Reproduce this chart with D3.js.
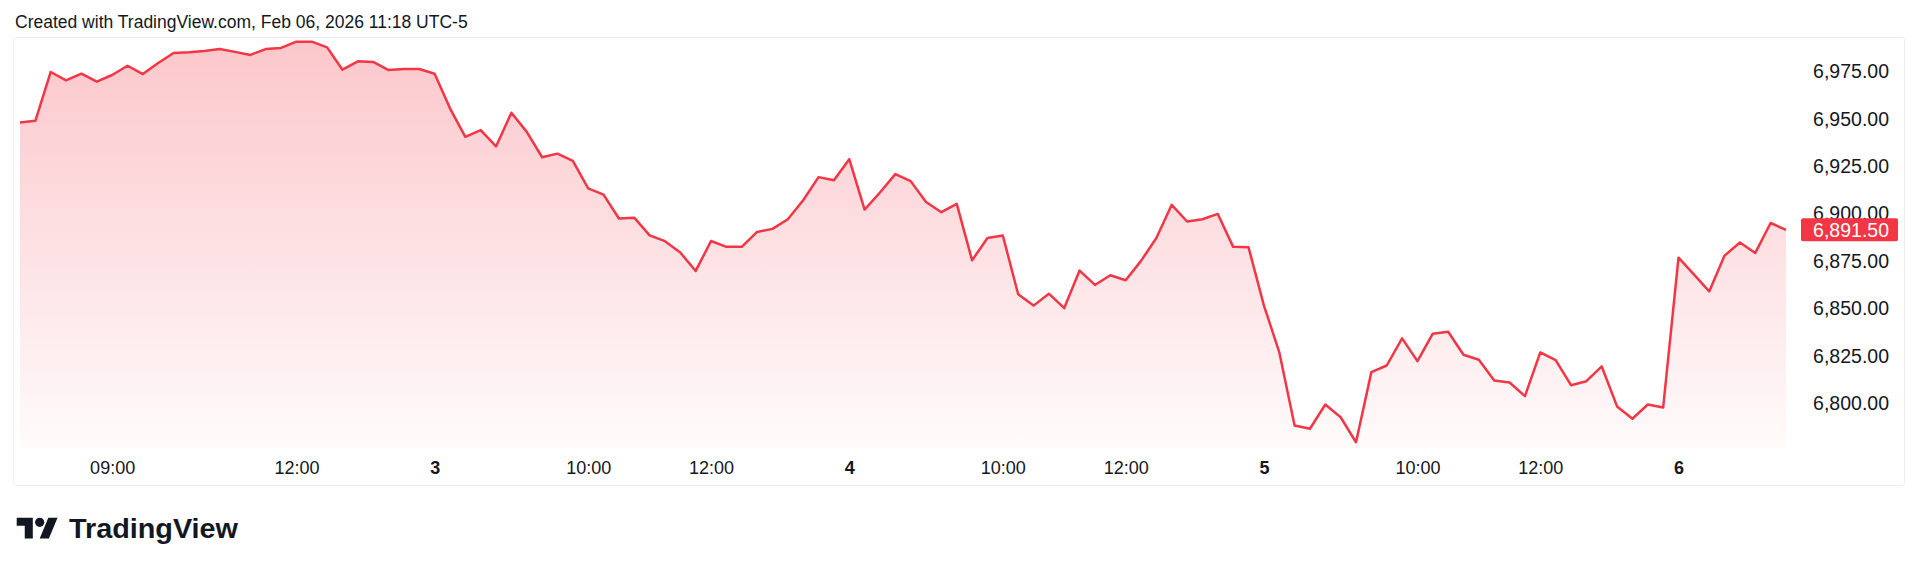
<!DOCTYPE html>
<html>
<head>
<meta charset="utf-8">
<script src="https://cdn.jsdelivr.net/npm/d3@7"></script>
<style>
  html, body { margin: 0; padding: 0; background: #ffffff; }
  svg { display: block; }
  text { font-family: "Liberation Sans", Arial, sans-serif; }
</style>
</head>
<body>
<svg id="chart"></svg>
<script>
// 15 minute bars, Feb 2 - Feb 6 (chart time), 27 bars per session
var prices = [
  6948.2, 6949.0, 6974.8, 6970.4, 6973.9, 6969.7, 6973.2, 6978.1, 6973.7, 6979.5,
  6984.8, 6985.2, 6985.9, 6986.9, 6985.4, 6983.8, 6986.9, 6987.5, 6990.8, 6990.8,
  6987.8, 6976.0, 6980.4, 6980.1, 6975.8, 6976.4, 6976.4,
  6973.9, 6955.6, 6940.6, 6944.1, 6935.5, 6953.3, 6943.2, 6929.8, 6931.7, 6927.9,
  6913.4, 6910.1, 6897.5, 6897.9, 6888.6, 6885.5, 6879.5, 6869.8, 6885.6, 6882.5,
  6882.5, 6890.4, 6892.0, 6897.1, 6907.1, 6919.3, 6917.7,
  6928.8, 6902.2, 6911.2, 6920.9, 6917.2, 6906.2, 6900.8, 6905.2, 6875.4, 6887.2,
  6888.5, 6857.5, 6851.5, 6857.8, 6850.2, 6870.0, 6862.4, 6867.5, 6864.9, 6875.1,
  6887.2, 6904.7, 6895.9, 6897.1, 6899.9, 6882.5, 6882.3,
  6851.6, 6827.0, 6788.2, 6786.5, 6799.3, 6792.6, 6779.4, 6816.4, 6819.9, 6834.2,
  6822.2, 6836.7, 6837.7, 6825.6, 6822.9, 6812.0, 6810.9, 6803.7, 6826.8, 6822.7,
  6809.5, 6811.6, 6819.4, 6798.3, 6791.8, 6799.3, 6797.7,
  6876.8, 6868.0, 6859.0, 6877.9, 6884.8, 6879.3, 6895.1, 6891.5
];

// time axis labels and the bar they sit on
var tickBars = [6, 18, 27, 37, 45, 54, 64, 72, 81, 91, 99, 108];
var tickLabels = ["09:00", "12:00", "3", "10:00", "12:00", "4", "10:00", "12:00", "5", "10:00", "12:00", "6"];
var dayLabels = ["3", "4", "5", "6"];

var priceTicks = [6800, 6825, 6850, 6875, 6900, 6925, 6950, 6975];
var lastPrice = 6891.50;

var width = 1920;
var height = 571;
var red = "#F23645";
var textColor = "#131722";
var paneBottom = 448;

var svg = d3.select("#chart")
            .attr("width", width)
            .attr("height", height);

svg.append("rect")
   .attr("width", width)
   .attr("height", height)
   .attr("fill", "#ffffff");

// header
svg.append("text")
   .attr("x", 15)
   .attr("y", 28)
   .attr("fill", textColor)
   .attr("font-size", "17.5px")
   .text("Created with TradingView.com, Feb 06, 2026 11:18 UTC-5");

// chart frame
svg.append("rect")
   .attr("x", 13.5)
   .attr("y", 37.5)
   .attr("width", 1891)
   .attr("height", 448)
   .attr("rx", 3)
   .attr("fill", "none")
   .attr("stroke", "#eceef3");

var x = d3.scaleLinear()
          .domain([0, prices.length - 1])
          .range([20, 1786]);

var y = d3.scaleLinear()
          .domain([6800, 6975])
          .range([403.2, 71.6]);

// area gradient
var grad = svg.append("defs")
              .append("linearGradient")
              .attr("id", "areaFill")
              .attr("gradientUnits", "userSpaceOnUse")
              .attr("x1", 0).attr("x2", 0)
              .attr("y1", y(d3.max(prices)))
              .attr("y2", paneBottom);

grad.append("stop").attr("offset", "0%").attr("stop-color", red).attr("stop-opacity", 0.28);
grad.append("stop").attr("offset", "100%").attr("stop-color", red).attr("stop-opacity", 0.02);

var area = d3.area()
             .x((d, i) => x(i))
             .y0(paneBottom)
             .y1(d => y(d));

var line = d3.line()
             .x((d, i) => x(i))
             .y(d => y(d));

svg.append("path")
   .datum(prices)
   .attr("d", area)
   .attr("fill", "url(#areaFill)");

svg.append("path")
   .datum(prices)
   .attr("d", line)
   .attr("fill", "none")
   .attr("stroke", red)
   .attr("stroke-width", 2.5)
   .attr("stroke-linejoin", "round");

// price scale
var yAxis = svg.append("g")
               .attr("transform", "translate(1889,0)")
               .call(d3.axisLeft(y)
                       .tickValues(priceTicks)
                       .tickFormat(d3.format(",.2f"))
                       .tickSize(0)
                       .tickPadding(0));

yAxis.select(".domain").remove();
yAxis.selectAll("text")
     .attr("fill", textColor)
     .attr("font-size", "19.5px")
     .attr("font-family", "Liberation Sans, Arial, sans-serif");

// last price label (drawn over the 6,900.00 tick like the original)
var lastY = y(lastPrice);
svg.append("rect")
   .attr("x", 1801)
   .attr("y", lastY - 11.5)
   .attr("width", 97)
   .attr("height", 23)
   .attr("rx", 2)
   .attr("fill", red);

svg.append("text")
   .attr("x", 1889)
   .attr("y", lastY)
   .attr("dy", "0.35em")
   .attr("text-anchor", "end")
   .attr("fill", "#ffffff")
   .attr("font-size", "19.5px")
   .text(d3.format(",.2f")(lastPrice));

// time scale
var xAxis = svg.append("g")
               .attr("transform", "translate(0,461)")
               .call(d3.axisBottom(x)
                       .tickValues(tickBars)
                       .tickFormat((d, i) => tickLabels[i])
                       .tickSize(0)
                       .tickPadding(0));

xAxis.select(".domain").remove();
xAxis.selectAll("text")
     .attr("fill", textColor)
     .attr("font-size", "18px")
     .attr("font-family", "Liberation Sans, Arial, sans-serif")
     .attr("font-weight", (d, i) => dayLabels.indexOf(tickLabels[i]) >= 0 ? "bold" : "normal");

// TradingView logo
var logo = svg.append("g")
              .attr("transform", "translate(16.7,513.1) scale(1.15)")
              .attr("fill", textColor);

logo.append("path")
    .attr("d", "M14 22H7V11H0V4h14v18zM28 22h-8l7.5-18h8L28 22z");

logo.append("circle")
    .attr("cx", 20)
    .attr("cy", 8)
    .attr("r", 4);

svg.append("text")
   .attr("x", 69)
   .attr("y", 538)
   .attr("fill", textColor)
   .attr("font-family", "Inter, sans-serif")
   .attr("font-weight", 600)
   .attr("font-size", "28px")
   .attr("textLength", 169)
   .attr("lengthAdjust", "spacingAndGlyphs")
   .text("TradingView");
</script>
</body>
</html>
